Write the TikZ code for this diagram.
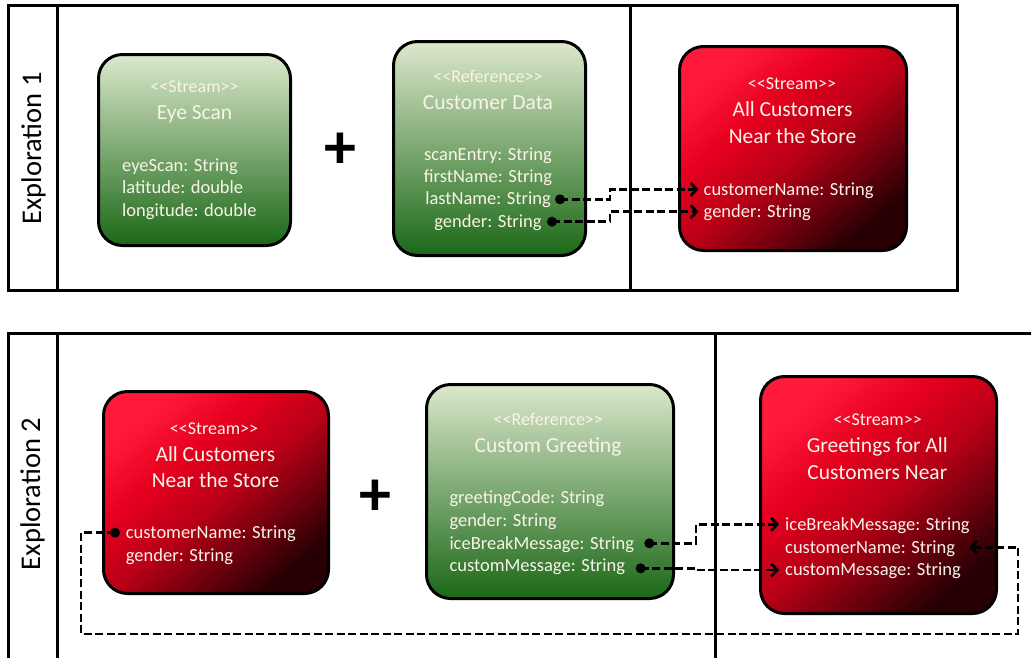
\documentclass[tikz,border=0pt]{standalone}
\usepackage{fontspec}
\setmainfont{Carlito}
\usetikzlibrary{arrows.meta}
\definecolor{gtop}{HTML}{DCE8CC}
\definecolor{gbot}{HTML}{1B6817}
\definecolor{rA}{HTML}{FF1A3C}
\definecolor{rB}{HTML}{E8001F}
\definecolor{rC}{HTML}{B80016}
\definecolor{rD}{HTML}{68000C}
\definecolor{rE}{HTML}{280004}
\definecolor{txt}{HTML}{FAF3E8}
\pgfdeclareverticalshading{redsh}{100bp}{color(0bp)=(rE); color(25bp)=(rE); color(35bp)=(rD); color(48bp)=(rC); color(62bp)=(rB); color(75bp)=(rA); color(100bp)=(rA)}
\newcommand{\stst}{<\kern0pt<\kern0pt Stream\kern0pt>\kern0pt>}
\newcommand{\stref}{<\kern0pt<\kern0pt Reference\kern0pt>\kern0pt>}
\tikzset{
  frame/.style={draw=black, line width=3pt},
  box/.style={draw=black, line width=3pt, rounded corners=24pt, inner sep=0pt},
  gbox/.style={box, top color=gtop, bottom color=gbot},
  rbox/.style={box, shading=redsh, shading angle=40},
  fld/.style={text=txt, font=\fontsize{18.5}{22}\selectfont, inner sep=0pt, text height=11.8pt, text depth=0pt, anchor=west},
  fldc/.style={fld, anchor=center},
  ster/.style={text=txt, font=\fontsize{18}{21}\selectfont, inner sep=0pt, text height=11.5pt, text depth=0pt},
  ttl/.style={text=txt, font=\fontsize{21.5}{26}\selectfont, inner sep=0pt, text height=13.8pt, text depth=0pt},
  expl/.style={font=\fontsize{28.5}{32}\selectfont, inner sep=0pt, text height=18.2pt, text depth=0pt, rotate=90},
  plussign/.style={font=\fontsize{64}{64}\selectfont\bfseries, inner sep=0pt},
  dotnode/.style={circle, fill=black, inner sep=0pt, minimum size=10pt},
  conn/.style={draw=black, line width=2.7pt, dash pattern=on 8pt off 3.5pt, -{Straight Barb[length=6pt,width=13pt]}}
}
\begin{document}
\begin{tikzpicture}[x=1pt,y=-1pt]
\useasboundingbox (0,0) rectangle (1031,657);
% frames
\draw[frame] (8,5) rectangle (957,290);
\draw[frame] (57,5) -- (57,290);
\draw[frame] (630,5) -- (630,290);
\draw[frame] (8,680) -- (8,333) -- (1045,333);
\draw[frame] (57,333) -- (57,680);
\draw[frame] (715,333) -- (715,680);
\node[expl] (ex1) at (32,148.5) {Exploration 1};
\node[expl] (ex2) at (31,494) {Exploration 2};

% ---- Exploration 1 ----
\node[gbox, minimum width=192pt, minimum height=191pt] (eye) at (194.5,150) {};
\node[ster] (eyeS) at (194.5,87) {\stst};
\node[ttl] (eyeT) at (194.5,113) {Eye Scan};
\node[fld] (eyeF1) at (122,165.5) {eyeScan: String};
\node[fld] (eyeF2) at (122,188) {latitude: double};
\node[fld] (eyeF3) at (122,210.5) {longitude: double};

\node[plussign] (plus1) at (340,150.5) {+};

\node[gbox, minimum width=192pt, minimum height=214pt] (cd) at (489.5,148.5) {};
\node[ster] (cdS) at (488,76.5) {\stref};
\node[ttl] (cdT) at (488,102.5) {Customer Data};
\node[fldc] (cdF1) at (488,155) {scanEntry: String};
\node[fldc] (cdF2) at (488,176.5) {firstName: String};
\node[fldc] (cdF3) at (488,199) {lastName: String};
\node[fldc] (cdF4) at (488,221.5) {gender: String};
\node[dotnode] (d1) at (560,199.3) {};
\node[dotnode] (d2) at (552,221.7) {};

\node[rbox, minimum width=227pt, minimum height=204pt] (ac1) at (793,148.5) {};
\node[ster] (ac1S) at (792,83.5) {\stst};
\node[ttl] (ac1T1) at (792.5,110) {All Customers};
\node[ttl] (ac1T2) at (792.5,136.5) {Near the Store};
\node[fld] (ac1F1) at (703.5,189.3) {customerName: String};
\node[fld] (ac1F2) at (703.5,211.7) {gender: String};

\coordinate (e1) at (610,0);
\draw[conn] (d1.center) -- (d1.center -| e1) |- ([xshift=-5pt]ac1F1.west);
\draw[conn] (d2.center) -- (d2.center -| e1) |- ([xshift=-5pt]ac1F2.west);

% ---- Exploration 2 ----
\node[rbox, minimum width=225pt, minimum height=202pt] (ac2) at (216,492.5) {};
\node[ster] (ac2S) at (214,428.3) {\stst};
\node[ttl] (ac2T1) at (215.5,454.3) {All Customers};
\node[ttl] (ac2T2) at (215.5,481) {Near the Store};
\node[fld] (ac2F1) at (125.7,532.7) {customerName: String};
\node[fld] (ac2F2) at (125.7,555.7) {gender: String};
\node[dotnode] (d5) at (115,532.7) {};

\node[plussign] (plus2) at (375,497.3) {+};

\node[gbox, minimum width=247pt, minimum height=214pt] (cg) at (550,491.5) {};
\node[ster] (cgS) at (548.3,420) {\stref};
\node[ttl] (cgT) at (548,446) {Custom Greeting};
\node[fld] (cgF1) at (449.3,497.7) {greetingCode: String};
\node[fld] (cgF2) at (449.3,520.7) {gender: String};
\node[fld] (cgF3) at (449.3,543.3) {iceBreakMessage: String};
\node[fld] (cgF4) at (449.3,566) {customMessage: String};
\node[dotnode] (d3) at (649.3,543.3) {};
\node[dotnode] (d4) at (640.7,568.3) {};

\node[rbox, minimum width=236pt, minimum height=237pt] (gr) at (878.5,495) {};
\node[ster] (grS) at (877.7,420) {\stst};
\node[ttl] (grT1) at (877.3,446) {Greetings for All};
\node[ttl] (grT2) at (877.3,472.7) {Customers Near};
\node[fld] (grF1) at (785,524.3) {iceBreakMessage: String};
\node[fld] (grF2) at (785,547.3) {customerName: String};
\node[fld] (grF3) at (785,570) {customMessage: String};

\coordinate (e2) at (696,0);
\draw[conn] (d3.center) -- (d3.center -| e2) |- ([xshift=-6pt]grF1.west);
\draw[conn] (d4.center) -- (d4.center -| e2) |- ([xshift=-6pt]grF3.west);

\coordinate (lpL) at (81,634);
\coordinate (lpR) at (1018,634);
\draw[conn] (d5.center) -| (lpL) -- (lpR) |- ([xshift=14pt]grF2.east);
\end{tikzpicture}
\end{document}
